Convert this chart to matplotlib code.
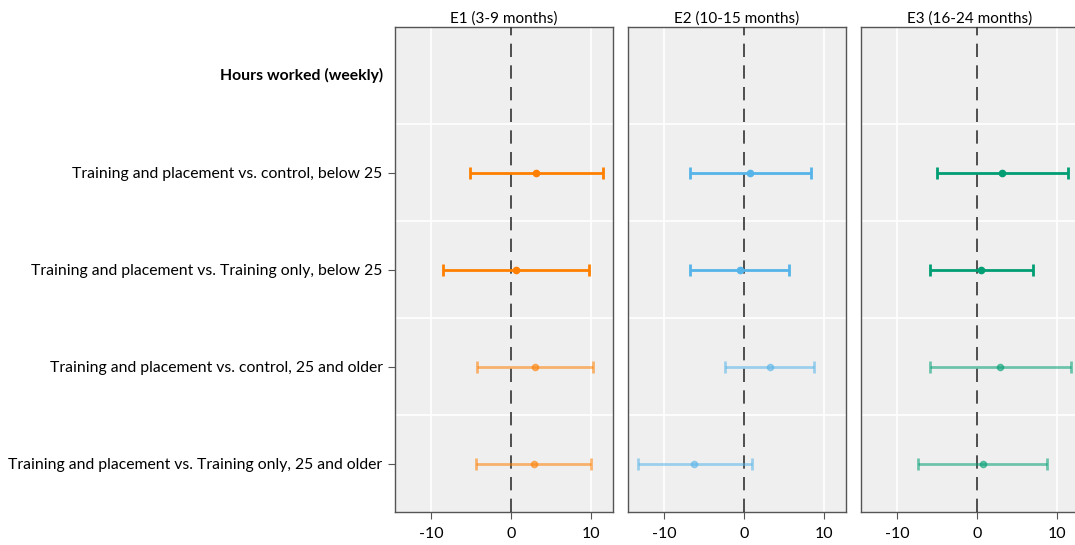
import numpy as np
import matplotlib.pyplot as plt

plt.rcParams['font.family'] = ['Lato', 'DejaVu Sans']

panels = ["E1 (3-9 months)", "E2 (10-15 months)", "E3 (16-24 months)"]
header = "Hours worked (weekly)"
rows = ["Training and placement vs. control, below 25",
        "Training and placement vs. Training only, below 25",
        "Training and placement vs. control, 25 and older",
        "Training and placement vs. Training only, 25 and older"]

# point estimates and confidence limits, one list per panel
est_e1 = [3.2, 0.6, 3.0, 2.9]
lo_e1 = [-5.1, -8.5, -4.2, -4.3]
hi_e1 = [11.6, 9.8, 10.3, 10.1]

est_e2 = [0.8, -0.5, 3.3, -6.2]
lo_e2 = [-6.7, -6.7, -2.3, -13.3]
hi_e2 = [8.4, 5.7, 8.8, 1.0]

est_e3 = [3.2, 0.55, 2.9, 0.75]
lo_e3 = [-5.0, -5.9, -5.9, -7.3]
hi_e3 = [11.4, 7.0, 11.8, 8.8]

colors = ["#FF7F00", "#56B4E9", "#009E73"]
alphas = [1.0, 1.0, 0.55, 0.55]

data = [(est_e1, lo_e1, hi_e1), (est_e2, lo_e2, hi_e2), (est_e3, lo_e3, hi_e3)]

fig = plt.figure(figsize=(10.75, 5.45), dpi=100)
lefts = [395, 628, 861]
for p in range(3):
    ax = fig.add_axes([lefts[p] / 1075, 1 - 512 / 545, 218 / 1075, 485 / 545])
    ax.set_facecolor("#EFEFEF")
    ax.set_xlim(-14.5, 12.8)
    ax.set_ylim(4.5, -0.5)
    est, lo, hi = data[p]
    for i in range(4):
        y = i + 1
        ax.errorbar(est[i], y, xerr=[[est[i] - lo[i]], [hi[i] - est[i]]],
                    fmt='o', color=colors[p], alpha=alphas[i], ms=4.5,
                    elinewidth=2, capsize=4, capthick=2, zorder=4)
    for g in [-10, 10]:
        ax.axvline(g, color="white", lw=1.2, zorder=1)
    for g in [0.5, 1.5, 2.5, 3.5]:
        ax.axhline(g, color="white", lw=1.2, zorder=1)
    ax.axvline(0, color="#333333", lw=1.2, ls=(0, (8, 5)), zorder=3)
    ax.set_xticks([-10, 0, 10])
    ax.set_xticklabels(["-10", "0", "10"], fontsize=11.5)
    ax.tick_params(axis='x', length=5, color="#555555", pad=6)
    for s in ax.spines.values():
        s.set_color("#555555")
        s.set_linewidth(1.0)
    ax.set_title(panels[p], fontsize=11, pad=3)
    if p == 0:
        ax.set_yticks([1, 2, 3, 4])
        ax.set_yticklabels(rows, fontsize=11.3)
        ax.tick_params(axis='y', length=5, color="#555555", pad=4)
        ax.text(-0.055, 0, header, transform=ax.get_yaxis_transform(),
                ha='right', va='center', fontsize=11.3, fontweight='bold')
    else:
        ax.set_yticks([])

fig.savefig("out.png", dpi=100)
